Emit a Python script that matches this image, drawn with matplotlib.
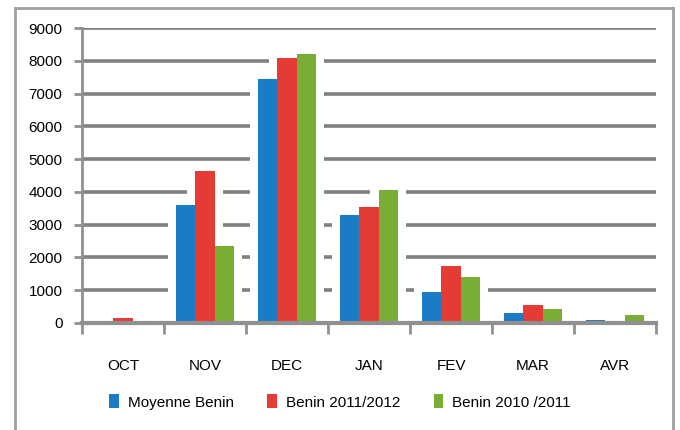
import matplotlib
matplotlib.use("Agg")
import matplotlib.pyplot as plt
import numpy as np

categories = ["OCT", "NOV", "DEC", "JAN", "FEV", "MAR", "AVR"]
moyenne_benin = [60, 3600, 7450, 3300, 950, 300, 80]
benin_2011_2012 = [150, 4650, 8100, 3550, 1750, 550, 0]
benin_2010_2011 = [20, 2350, 8200, 4050, 1400, 420, 230]
series_names = ["Moyenne Benin", "Benin 2011/2012", "Benin 2010 /2011"]
colors = ["#1a7cc4", "#e53b35", "#79ad35"]
y_ticks = [0, 1000, 2000, 3000, 4000, 5000, 6000, 7000, 8000, 9000]

plt.rcParams['font.family'] = ['Liberation Sans', 'DejaVu Sans']

fig = plt.figure(figsize=(6.8, 4.3), dpi=100)
fig.patch.set_facecolor("white")

# outer frame
fig.add_artist(plt.Line2D([15/680, 15/680], [0, 1 - 8/430], color="#a0a0a0", lw=2, transform=fig.transFigure))
fig.add_artist(plt.Line2D([15/680, 673/680], [1 - 8/430, 1 - 8/430], color="#a0a0a0", lw=2, transform=fig.transFigure))
fig.add_artist(plt.Line2D([673/680, 673/680], [0, 1 - 8/430], color="#a0a0a0", lw=2, transform=fig.transFigure))

ax = fig.add_axes([82/680, 1 - 323/430, (656 - 82)/680, (323 - 28)/430])
x = np.arange(len(categories))
w = 0.235
data = [moyenne_benin, benin_2011_2012, benin_2010_2011]

for i, vals in enumerate(data):
    pos = x + (i - 1) * w
    # white halo behind bars
    ax.bar(pos, np.array(vals) + 150, width=w + 0.2, color="white", zorder=2, linewidth=0)
for i, (vals, c, name) in enumerate(zip(data, colors, series_names)):
    pos = x + (i - 1) * w
    ax.bar(pos, vals, width=w, color=c, zorder=3, linewidth=0, label=name)

ax.set_xlim(-0.5, len(categories) - 0.5)
ax.set_ylim(0, 9000)
ax.set_yticks(y_ticks)
ax.set_yticklabels([str(v) for v in y_ticks], fontsize=11)
ax.yaxis.grid(True, color="#808080", lw=2.6, zorder=1)
ax.set_axisbelow(True)

ax.set_xticks(np.arange(len(categories) + 1) - 0.5)
ax.set_xticklabels([])
ax.set_xticks(x, minor=True)
ax.set_xticklabels(categories, minor=True, fontsize=11)
ax.tick_params(axis="x", which="major", length=8, width=2, color="#909090", direction="out")
ax.tick_params(axis="x", which="minor", length=0, pad=26)
ax.tick_params(axis="y", length=6, width=2, color="#909090", pad=8)

for s in ["top", "right"]:
    ax.spines[s].set_visible(False)
ax.spines["left"].set_color("#909090")
ax.spines["left"].set_linewidth(2)
ax.spines["bottom"].set_color("#909090")
ax.spines["bottom"].set_linewidth(3)
ax.spines["bottom"].set_zorder(4)

leg = fig.legend(loc="center", bbox_to_anchor=(0.5, 1 - 402/430), ncol=3, frameon=False,
                 fontsize=11, handlelength=0.6, handleheight=1.0, handletextpad=0.6, columnspacing=2.2)

fig.savefig("out.png", dpi=100, facecolor="white")
